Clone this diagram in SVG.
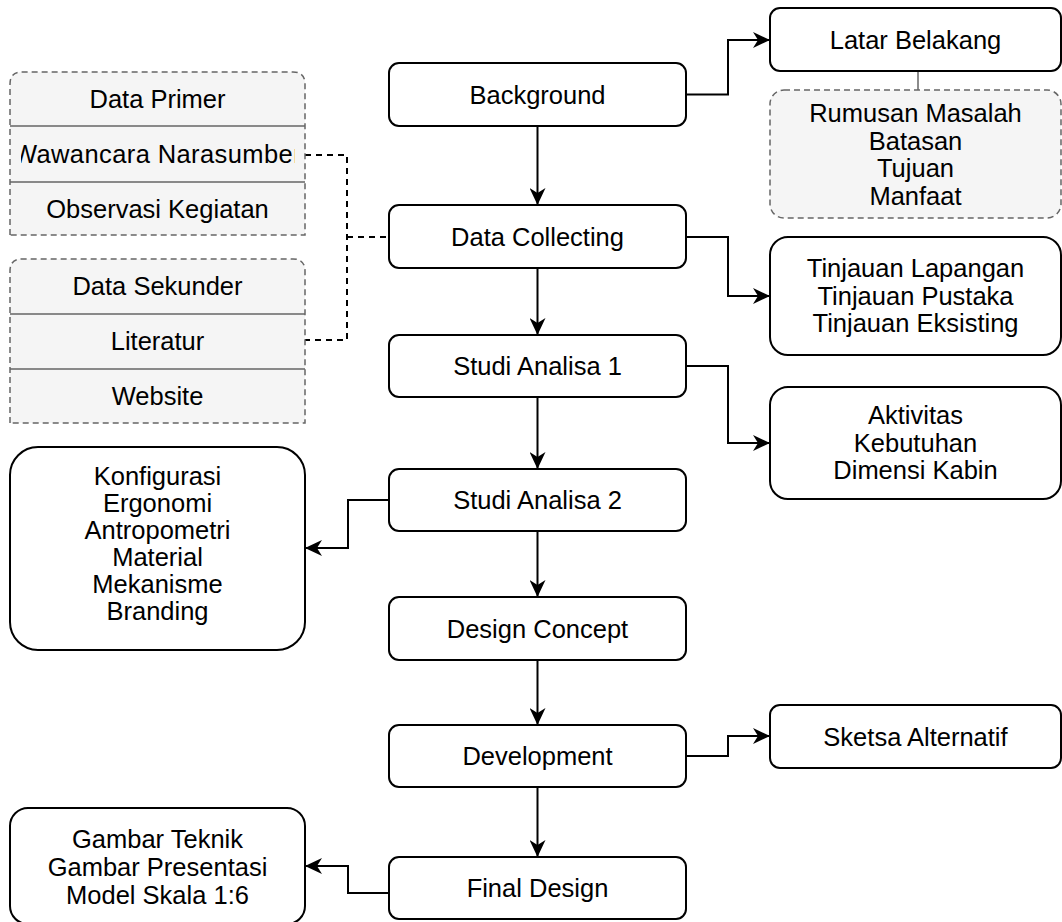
<svg xmlns="http://www.w3.org/2000/svg" width="1062" height="922" viewBox="0 0 1062 922">
  <style>
    .box { fill: #ffffff; stroke: #000000; stroke-width: 2; }
    .dash { fill: #f5f5f5; stroke: #666666; stroke-width: 1.5; stroke-dasharray: 6 4; }
    .row { stroke: #666666; stroke-width: 1.5; fill: none; }
    .t { font-family: "Liberation Sans", Arial, Helvetica, sans-serif; font-size: 25.5px; fill: #000000; text-anchor: middle; }
    .edge { fill: none; stroke: #000000; stroke-width: 2; }
    .dedge { fill: none; stroke: #000000; stroke-width: 2; stroke-dasharray: 6 5; }
  </style>
  <defs>
    <marker id="arrow" markerUnits="userSpaceOnUse" markerWidth="18" markerHeight="16" refX="17" refY="8" orient="auto">
      <path d="M0,0 L17,8 L0,16 L5,8 Z" fill="#000000"/>
    </marker>
    <clipPath id="rowclip">
      <rect x="21" y="126" width="274" height="56"/>
    </clipPath>
  </defs>

  <rect width="1062" height="922" fill="#ffffff"/>

  <!-- connectors -->
  <g id="connectors">
    <path class="edge" d="M537.5,126 V205" marker-end="url(#arrow)"/>
    <path class="edge" d="M537.5,268 V335" marker-end="url(#arrow)"/>
    <path class="edge" d="M537.5,397 V469" marker-end="url(#arrow)"/>
    <path class="edge" d="M537.5,531 V597" marker-end="url(#arrow)"/>
    <path class="edge" d="M537.5,660 V725" marker-end="url(#arrow)"/>
    <path class="edge" d="M537.5,787 V857" marker-end="url(#arrow)"/>
    <path class="edge" d="M686,94.5 H728 V40 H770" marker-end="url(#arrow)"/>
    <path class="edge" d="M686,237 H728 V296 H770" marker-end="url(#arrow)"/>
    <path class="edge" d="M686,366 H728 V443 H770" marker-end="url(#arrow)"/>
    <path class="edge" d="M389,500 H348 V548 H305" marker-end="url(#arrow)"/>
    <path class="edge" d="M686,756 H728 V736 H770" marker-end="url(#arrow)"/>
    <path class="edge" d="M389,893 H348 V866 H305" marker-end="url(#arrow)"/>
    <path d="M918,71 V90" stroke="#666666" stroke-width="1.5" fill="none"/>
    <path class="dedge" d="M305,155 H347 V340 H305"/>
    <path class="dedge" d="M347,237 H389"/>
  </g>

  <!-- main flow -->
  <g id="background">
    <rect class="box" x="389" y="63" width="297" height="63" rx="10"/>
    <text class="t" x="537.5" y="104">Background</text>
  </g>
  <g id="data-collecting">
    <rect class="box" x="389" y="205" width="297" height="63" rx="10"/>
    <text class="t" x="537.5" y="246">Data Collecting</text>
  </g>
  <g id="studi-analisa-1">
    <rect class="box" x="389" y="335" width="297" height="62" rx="10"/>
    <text class="t" x="537.5" y="375">Studi Analisa 1</text>
  </g>
  <g id="studi-analisa-2">
    <rect class="box" x="389" y="469" width="297" height="62" rx="10"/>
    <text class="t" x="537.5" y="509">Studi Analisa 2</text>
  </g>
  <g id="design-concept">
    <rect class="box" x="389" y="597" width="297" height="63" rx="10"/>
    <text class="t" x="537.5" y="638">Design Concept</text>
  </g>
  <g id="development">
    <rect class="box" x="389" y="725" width="297" height="62" rx="10"/>
    <text class="t" x="537.5" y="765">Development</text>
  </g>
  <g id="final-design">
    <rect class="box" x="389" y="857" width="297" height="62" rx="10"/>
    <text class="t" x="537.5" y="897">Final Design</text>
  </g>

  <!-- right side -->
  <g id="latar-belakang">
    <rect class="box" x="770" y="8" width="291" height="63" rx="10"/>
    <text class="t" x="915.5" y="49">Latar Belakang</text>
  </g>
  <g id="rumusan">
    <rect class="dash" x="770" y="90" width="291" height="128" rx="14"/>
    <text class="t" x="915.5" y="122">Rumusan Masalah</text>
    <text class="t" x="915.5" y="149.5">Batasan</text>
    <text class="t" x="915.5" y="177">Tujuan</text>
    <text class="t" x="915.5" y="204.5">Manfaat</text>
  </g>
  <g id="tinjauan">
    <rect class="box" x="770" y="237" width="291" height="118" rx="18"/>
    <text class="t" x="915.5" y="277">Tinjauan Lapangan</text>
    <text class="t" x="915.5" y="304.5">Tinjauan Pustaka</text>
    <text class="t" x="915.5" y="332">Tinjauan Eksisting</text>
  </g>
  <g id="aktivitas">
    <rect class="box" x="770" y="387" width="291" height="112" rx="18"/>
    <text class="t" x="915.5" y="424">Aktivitas</text>
    <text class="t" x="915.5" y="451.5">Kebutuhan</text>
    <text class="t" x="915.5" y="479">Dimensi Kabin</text>
  </g>
  <g id="sketsa">
    <rect class="box" x="770" y="705" width="291" height="63" rx="10"/>
    <text class="t" x="915.5" y="746">Sketsa Alternatif</text>
  </g>

  <!-- left side -->
  <g id="data-primer">
    <path class="dash" d="M10,235 V84 Q10,72 22,72 H293 Q305,72 305,84 V235 Z"/>
    <path class="row" d="M10,126 H305 M10,182 H305"/>
    <text class="t" x="157.5" y="108">Data Primer</text>
    <text class="t" x="157.5" y="163" clip-path="url(#rowclip)" letter-spacing="0.4">Wawancara Narasumber</text>
    <text class="t" x="157.5" y="218">Observasi Kegiatan</text>
  </g>
  <g id="data-sekunder">
    <path class="dash" d="M10,423 V271 Q10,259 22,259 H293 Q305,259 305,271 V423 Z"/>
    <path class="row" d="M10,314 H305 M10,369 H305"/>
    <text class="t" x="157.5" y="295">Data Sekunder</text>
    <text class="t" x="157.5" y="350">Literatur</text>
    <text class="t" x="157.5" y="405">Website</text>
  </g>
  <g id="konfigurasi">
    <rect class="box" x="10" y="447" width="295" height="203" rx="28"/>
    <text class="t" x="157.5" y="485">Konfigurasi</text>
    <text class="t" x="157.5" y="512">Ergonomi</text>
    <text class="t" x="157.5" y="539">Antropometri</text>
    <text class="t" x="157.5" y="566">Material</text>
    <text class="t" x="157.5" y="593">Mekanisme</text>
    <text class="t" x="157.5" y="620">Branding</text>
  </g>
  <g id="gambar">
    <rect class="box" x="10" y="808" width="295" height="116" rx="18"/>
    <text class="t" x="157.5" y="848">Gambar Teknik</text>
    <text class="t" x="157.5" y="876">Gambar Presentasi</text>
    <text class="t" x="157.5" y="904">Model Skala 1:6</text>
  </g>
</svg>
